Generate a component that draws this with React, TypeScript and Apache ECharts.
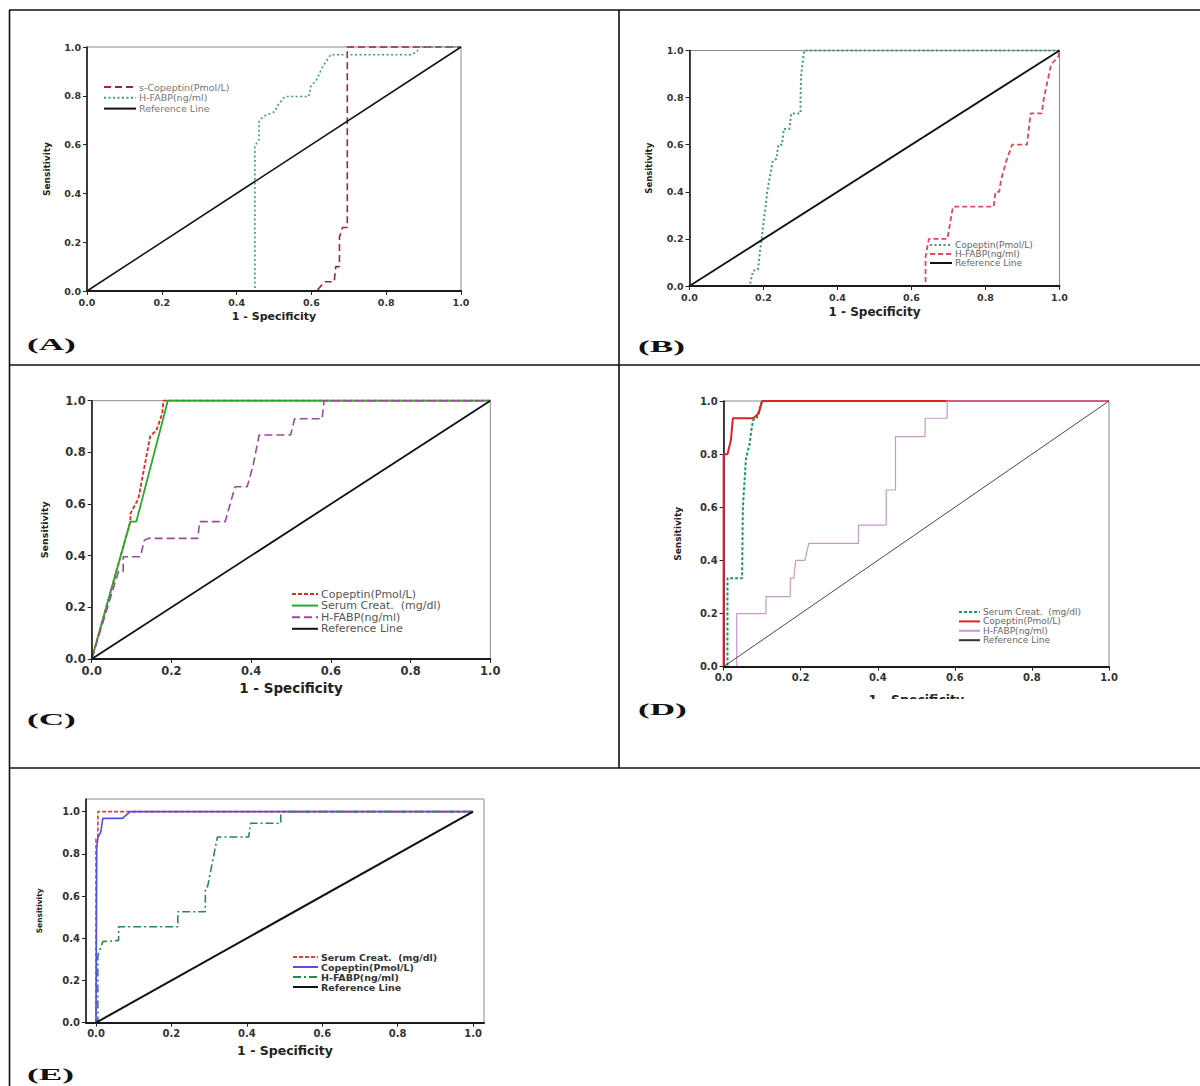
import React, { useEffect, useRef } from "react";
import * as echarts from "echarts";

// ---------- data ----------
const TICKS = [0, 0.2, 0.4, 0.6, 0.8, 1.0];
const X_TITLE = "1 - Specificity";
const Y_TITLE = "Sensitivity";
const PANEL_LABELS = ["(A)", "(B)", "(C)", "(D)", "(E)"];
const REFERENCE = [[0, 0], [1, 1]];

// Panel A
const A_NAMES = ["s-Copeptin(Pmol/L)", "H-FABP(ng/ml)", "Reference Line"];
const A_COPEPTIN = [[0, 0], [0.614, 0], [0.635, 0.038], [0.661, 0.038], [0.665, 0.1], [0.675, 0.1], [0.675, 0.22], [0.683, 0.26], [0.696, 0.26], [0.696, 1], [1, 1]];
const A_HFABP = [[0, 0], [0.449, 0], [0.449, 0.596], [0.46, 0.62], [0.46, 0.695], [0.471, 0.715], [0.503, 0.736], [0.508, 0.757], [0.529, 0.797], [0.593, 0.797], [0.598, 0.838], [0.614, 0.866], [0.63, 0.92], [0.646, 0.955], [0.651, 0.968], [0.868, 0.968], [0.884, 0.984], [0.884, 1], [1, 1]];

// Panel B
const B_NAMES = ["Copeptin(Pmol/L)", "H-FABP(ng/ml)", "Reference Line"];
const B_COPEPTIN = [[0, 0], [0.164, 0], [0.165, 0.02], [0.172, 0.065], [0.185, 0.07], [0.19, 0.14], [0.195, 0.2], [0.2, 0.27], [0.205, 0.33], [0.21, 0.4], [0.218, 0.47], [0.225, 0.533], [0.235, 0.54], [0.24, 0.6], [0.25, 0.6], [0.255, 0.667], [0.27, 0.667], [0.275, 0.733], [0.3, 0.733], [0.3, 0.8], [0.302, 0.9], [0.31, 1], [1, 1]];
const B_HFABP = [[0, 0], [0.638, 0], [0.638, 0.125], [0.647, 0.2], [0.697, 0.2], [0.712, 0.337], [0.822, 0.337], [0.827, 0.4], [0.837, 0.4], [0.842, 0.45], [0.857, 0.535], [0.872, 0.6], [0.912, 0.6], [0.922, 0.733], [0.952, 0.733], [0.957, 0.79], [0.977, 0.94], [0.997, 0.975], [1, 1]];

// Panel C
const C_NAMES = ["Copeptin(Pmol/L)", "Serum Creat.  (mg/dl)", "H-FABP(ng/ml)", "Reference Line"];
const C_COPEPTIN = [[0, 0], [0.097, 0.532], [0.097, 0.563], [0.117, 0.62], [0.147, 0.864], [0.162, 0.884], [0.177, 0.95], [0.18, 1], [1, 1]];
const C_SERUM = [[0, 0], [0.097, 0.532], [0.112, 0.532], [0.191, 1], [1, 1]];
const C_HFABP = [[0, 0], [0.067, 0.338], [0.079, 0.338], [0.079, 0.396], [0.122, 0.396], [0.132, 0.46], [0.142, 0.467], [0.266, 0.467], [0.271, 0.532], [0.335, 0.532], [0.35, 0.615], [0.36, 0.667], [0.39, 0.667], [0.405, 0.75], [0.42, 0.867], [0.499, 0.867], [0.509, 0.93], [0.578, 0.93], [0.583, 1], [1, 1]];

// Panel D
const D_NAMES = ["Serum Creat.  (mg/dl)", "Copeptin(Pmol/L)", "H-FABP(ng/ml)", "Reference Line"];
const D_SERUM = [[0, 0], [0.01, 0], [0.01, 0.333], [0.048, 0.333], [0.05, 0.6], [0.058, 0.784], [0.067, 0.834], [0.072, 0.89], [0.077, 0.93], [0.086, 0.935], [0.096, 0.985], [0.1, 1], [1, 1]];
const D_COPEPTIN = [[0, 0], [0, 0.8], [0.01, 0.8], [0.019, 0.853], [0.024, 0.935], [0.077, 0.935], [0.091, 0.953], [0.1, 1], [1, 1]];
const D_HFABP = [[0, 0], [0.034, 0], [0.034, 0.2], [0.11, 0.2], [0.11, 0.264], [0.173, 0.264], [0.173, 0.333], [0.182, 0.333], [0.187, 0.4], [0.211, 0.4], [0.221, 0.464], [0.35, 0.464], [0.35, 0.533], [0.422, 0.533], [0.422, 0.665], [0.446, 0.665], [0.446, 0.866], [0.523, 0.866], [0.523, 0.935], [0.58, 0.935], [0.58, 1], [1, 1]];

// Panel E
const E_NAMES = ["Serum Creat.  (mg/dl)", "Copeptin(Pmol/L)", "H-FABP(ng/ml)", "Reference Line"];
const E_SERUM = [[0, 0], [0, 0.87], [0.005, 0.88], [0.005, 1], [1, 1]];
const E_COPEPTIN = [[0, 0], [0.002, 0.826], [0.005, 0.877], [0.013, 0.905], [0.018, 0.968], [0.07, 0.968], [0.08, 0.984], [0.091, 1], [1, 1]];
const E_HFABP = [[0, 0], [0.005, 0], [0.005, 0.32], [0.018, 0.384], [0.06, 0.39], [0.06, 0.455], [0.217, 0.455], [0.217, 0.526], [0.29, 0.526], [0.29, 0.637], [0.296, 0.645], [0.322, 0.88], [0.405, 0.88], [0.41, 0.945], [0.49, 0.945], [0.49, 0.984], [0.495, 1], [1, 1]];

// ---------- layout / style ----------
const FONT = "DejaVu Sans";
const fmt = (v: number) => v.toFixed(1);

type Panel = {
  key: string;
  grid: { left: number; top: number; width: number; height: number };
  xRange?: [number, number];
  yRange?: [number, number];
  tickSize: number;
  xTitleSize: number;
  yTitleSize: number;
  xGap: number;
  yGap: number;
  yAxisZ: number;
  legend: { left: number; top: number; itemWidth: number; fontSize: number; lineHeight: number; itemGap: number; color: string; bold?: boolean };
  names: string[];
  series: { data: number[][]; color: string; width: number; type: any }[];
};

const PANELS: Panel[] = [
  {
    key: "A",
    grid: { left: 87, top: 47, width: 374, height: 244 },
    tickSize: 9.5, xTitleSize: 11, yTitleSize: 9, xGap: 20, yGap: 36, yAxisZ: 3,
    legend: { left: 103, top: 82, itemWidth: 32, fontSize: 9.5, lineHeight: 9, itemGap: 0.8, color: "#777" },
    names: A_NAMES,
    series: [
      { data: A_COPEPTIN, color: "#a02535", width: 1.6, type: [7, 4] },
      { data: A_HFABP, color: "#3a9e80", width: 1.6, type: [2, 2.5] },
      { data: REFERENCE, color: "#111", width: 1.5, type: "solid" },
    ],
  },
  {
    key: "B",
    grid: { left: 689.5, top: 50.5, width: 370, height: 235.5 },
    tickSize: 9.5, xTitleSize: 12, yTitleSize: 8.5, xGap: 20, yGap: 36, yAxisZ: 3,
    legend: { left: 929, top: 240.5, itemWidth: 22, fontSize: 9, lineHeight: 8, itemGap: 0, color: "#666" },
    names: B_NAMES,
    series: [
      { data: B_COPEPTIN, color: "#3f9a7a", width: 2, type: [2, 2.5] },
      { data: B_HFABP, color: "#e04858", width: 1.8, type: [5, 3] },
      { data: REFERENCE, color: "#111", width: 1.8, type: "solid" },
    ],
  },
  {
    key: "C",
    grid: { left: 91.7, top: 400.7, width: 398.6, height: 258.3 },
    tickSize: 11.5, xTitleSize: 13.5, yTitleSize: 9.5, xGap: 22, yGap: 42, yAxisZ: 3,
    legend: { left: 291, top: 588.5, itemWidth: 26, fontSize: 11, lineHeight: 10, itemGap: 0.6, color: "#555" },
    names: C_NAMES,
    series: [
      { data: C_COPEPTIN, color: "#e02a20", width: 1.8, type: [4, 2] },
      { data: C_SERUM, color: "#2aaa2a", width: 1.8, type: "solid" },
      { data: C_HFABP, color: "#9a4aa0", width: 1.6, type: [8, 4] },
      { data: REFERENCE, color: "#111", width: 1.8, type: "solid" },
    ],
  },
  {
    key: "D",
    grid: { left: 723.6, top: 401, width: 385.4, height: 265.7 },
    tickSize: 10, xTitleSize: 12.5, yTitleSize: 9, xGap: 26, yGap: 41, yAxisZ: 1,
    legend: { left: 958, top: 607.5, itemWidth: 21, fontSize: 9, lineHeight: 8, itemGap: 0.4, color: "#666" },
    names: D_NAMES,
    series: [
      { data: D_SERUM, color: "#1a9a5a", width: 2, type: [3, 2] },
      { data: D_COPEPTIN, color: "#e0202a", width: 2, type: "solid" },
      { data: D_HFABP, color: "#c999c9", width: 1.2, type: "solid" },
      { data: REFERENCE, color: "#333", width: 0.9, type: "solid" },
    ],
  },
  {
    key: "E",
    grid: { left: 86, top: 799, width: 398, height: 223.7 },
    xRange: [-0.0265, 1.029],
    yRange: [0, 1.06],
    tickSize: 10, xTitleSize: 12.5, yTitleSize: 7.5, xGap: 21, yGap: 43, yAxisZ: 3,
    legend: { left: 292, top: 952, itemWidth: 25, fontSize: 9.5, lineHeight: 8.5, itemGap: 0, color: "#333", bold: true },
    names: E_NAMES,
    series: [
      { data: E_SERUM, color: "#e83a3a", width: 1.6, type: [4, 2] },
      { data: E_COPEPTIN, color: "#5050e6", width: 1.6, type: "solid" },
      { data: E_HFABP, color: "#2a8a4a", width: 1.6, type: [8, 3, 2, 3] },
      { data: REFERENCE, color: "#111", width: 2, type: "solid" },
    ],
  },
];

const LETTERS_POS = [
  { x: 27, y: 345 },
  { x: 638, y: 347 },
  { x: 27, y: 720 },
  { x: 638, y: 710 },
  { x: 27, y: 1075 },
];

function buildOption() {
  const grid: any[] = [];
  const xAxis: any[] = [];
  const yAxis: any[] = [];
  const legend: any[] = [];
  const series: any[] = [];

  PANELS.forEach((p, i) => {
    grid.push({
      ...p.grid,
      show: true,
      borderColor: "#8a8a8a",
      borderWidth: 1,
      backgroundColor: "transparent",
      containLabel: false,
      outerBoundsMode: "none",
    });
    const custom = !!p.xRange;
    const labelStyle = {
      fontFamily: FONT,
      fontWeight: "bold",
      fontSize: p.tickSize,
      color: "#333",
      formatter: fmt,
      showMinLabel: true,
      showMaxLabel: true,
      hideOverlap: false,
    };
    xAxis.push({
      type: "value",
      gridIndex: i,
      min: custom ? p.xRange![0] : 0,
      max: custom ? p.xRange![1] : 1,
      ...(custom ? {} : { interval: 0.2 }),
      name: X_TITLE,
      nameLocation: "middle",
      nameGap: p.xGap,
      nameTextStyle: { fontFamily: FONT, fontWeight: "bold", fontSize: p.xTitleSize, color: "#222" },
      axisLine: { show: true, onZero: false, lineStyle: { color: "#1a1a1a", width: 2 } },
      axisTick: { show: true, length: 4, lineStyle: { color: "#222" }, ...(custom ? { customValues: TICKS } : {}) },
      axisLabel: { ...labelStyle, margin: 6, ...(custom ? { customValues: TICKS } : {}) },
      splitLine: { show: false },
      z: 3,
    });
    yAxis.push({
      type: "value",
      gridIndex: i,
      min: custom ? p.yRange![0] : 0,
      max: custom ? p.yRange![1] : 1,
      ...(custom ? {} : { interval: 0.2 }),
      name: Y_TITLE,
      nameLocation: "middle",
      nameGap: p.yGap,
      nameTextStyle: { fontFamily: FONT, fontWeight: "bold", fontSize: p.yTitleSize, color: "#222" },
      axisLine: { show: true, onZero: false, lineStyle: { color: "#1a1a1a", width: 1.6 } },
      axisTick: { show: true, length: 4, lineStyle: { color: "#222" }, ...(custom ? { customValues: TICKS } : {}) },
      axisLabel: { ...labelStyle, margin: 6, ...(custom ? { customValues: TICKS } : {}) },
      splitLine: { show: false },
      z: p.yAxisZ,
    });
    const fullNames = p.names.map((n) => `${p.key}|${n}`);
    legend.push({
      data: fullNames,
      orient: "vertical",
      left: p.legend.left,
      top: p.legend.top,
      padding: 0,
      itemWidth: p.legend.itemWidth,
      itemHeight: 6,
      itemGap: p.legend.itemGap,
      selectedMode: false,
      itemStyle: { opacity: 0 },
      formatter: (n: string) => n.split("|")[1],
      textStyle: {
        fontFamily: FONT,
        fontSize: p.legend.fontSize,
        lineHeight: p.legend.lineHeight,
        color: p.legend.color,
        fontWeight: p.legend.bold ? "bold" : "normal",
        padding: [0, 0, 0, -2],
      },
    });
    p.series.forEach((s, k) => {
      series.push({
        type: "line",
        name: fullNames[k],
        xAxisIndex: i,
        yAxisIndex: i,
        data: s.data,
        symbol: "none",
        showSymbol: false,
        clip: false,
        silent: true,
        z: 2,
        itemStyle: { color: s.color },
        lineStyle: { color: s.color, width: s.width, type: s.type, cap: "butt" },
      });
    });
  });

  const border = { stroke: "#111", lineWidth: 1.6 };
  const graphic: any[] = [
    { type: "line", shape: { x1: 9, y1: 10, x2: 1200, y2: 10 }, style: border, z: 50 },
    { type: "line", shape: { x1: 9.5, y1: 10, x2: 9.5, y2: 1086 }, style: border, z: 50 },
    { type: "line", shape: { x1: 619, y1: 10, x2: 619, y2: 768 }, style: border, z: 50 },
    { type: "line", shape: { x1: 9, y1: 365, x2: 1200, y2: 365 }, style: border, z: 50 },
    { type: "line", shape: { x1: 9, y1: 768, x2: 1200, y2: 768 }, style: border, z: 50 },
    // clipped axis title in panel D
    { type: "rect", shape: { x: 840, y: 699, width: 160, height: 14 }, style: { fill: "#fff" }, z: 100 },
  ];
  PANEL_LABELS.forEach((t, i) => {
    graphic.push({
      type: "text",
      x: LETTERS_POS[i].x,
      y: LETTERS_POS[i].y,
      scaleX: 2.2,
      z: 60,
      style: {
        text: t,
        fontFamily: "Liberation Serif",
        fontWeight: "bold",
        fontSize: 16,
        fill: "#111",
        verticalAlign: "middle",
        align: "left",
      },
    });
  });

  return {
    animation: false,
    backgroundColor: "#ffffff",
    grid,
    xAxis,
    yAxis,
    legend,
    series,
    graphic,
  };
}

export default function App() {
  const ref = useRef<HTMLDivElement>(null);
  useEffect(() => {
    if (!ref.current) return;
    const chart = echarts.init(ref.current, null, { renderer: "svg" });
    chart.setOption(buildOption() as any);
    return () => chart.dispose();
  }, []);
  return (
    <div
      ref={ref}
      style={{ position: "absolute", left: 0, top: 0, width: 1200, height: 1086, background: "#fff" }}
    />
  );
}
